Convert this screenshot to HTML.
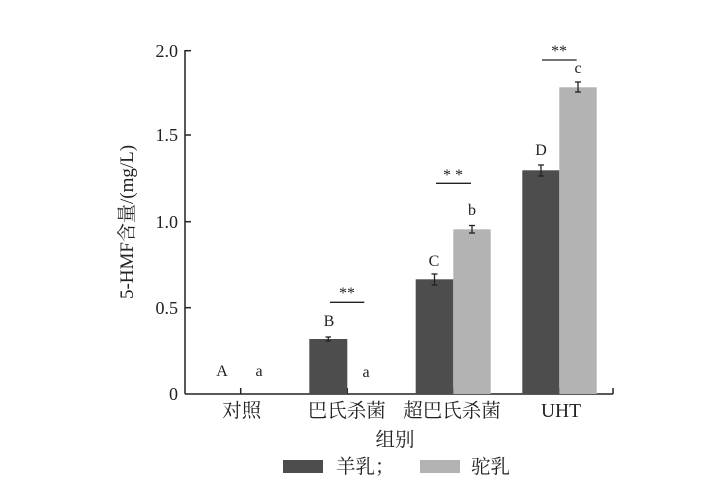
<!DOCTYPE html>
<html><head><meta charset="utf-8"><style>
html,body{margin:0;padding:0;background:#fff;}
svg text{font-family:"Liberation Serif","Noto Serif CJK SC",serif;fill:#222;}
</style></head><body>
<svg width="709" height="497" viewBox="0 0 709 497" xmlns="http://www.w3.org/2000/svg">
<g stroke="#222" stroke-width="1.5" fill="none">
<line x1="185" y1="50" x2="185" y2="394"/>
<line x1="185" y1="394" x2="613" y2="394"/>
<line x1="185" y1="50.7" x2="191" y2="50.7"/>
<line x1="185" y1="135" x2="191" y2="135"/>
<line x1="185" y1="221.7" x2="191" y2="221.7"/>
<line x1="185" y1="307.7" x2="191" y2="307.7"/>
<line x1="240.7" y1="394" x2="240.7" y2="388"/>
<line x1="347.3" y1="394" x2="347.3" y2="388"/>
<line x1="453.3" y1="394" x2="453.3" y2="388"/>
<line x1="559.3" y1="394" x2="559.3" y2="388"/>
<line x1="613" y1="394" x2="613" y2="388"/>
</g>
<g font-size="18" text-anchor="end">
<text x="178" y="57">2.0</text>
<text x="178" y="141">1.5</text>
<text x="178" y="228">1.0</text>
<text x="178" y="314">0.5</text>
<text x="178" y="400">0</text>
</g>
<text transform="translate(133,222) rotate(-90)" font-size="19" text-anchor="middle">5-HMF含量/(mg/L)</text>
<rect x="309.3" y="339" width="38" height="55" fill="#4d4d4d"/>
<rect x="415.7" y="279.3" width="37.6" height="114.7" fill="#4d4d4d"/>
<rect x="453.3" y="229.3" width="37.4" height="164.7" fill="#b3b3b3"/>
<rect x="522.3" y="170.3" width="37" height="223.7" fill="#4d4d4d"/>
<rect x="559.3" y="87.3" width="37.4" height="306.7" fill="#b3b3b3"/>
<g stroke="#222" stroke-width="1.3">
<line x1="328.3" y1="337" x2="328.3" y2="341"/><line x1="325.5" y1="337" x2="331" y2="337"/><line x1="325.5" y1="341" x2="331" y2="341"/>
<line x1="434.5" y1="274" x2="434.5" y2="285"/><line x1="431.5" y1="274" x2="437.5" y2="274"/><line x1="431.5" y1="285" x2="437.5" y2="285"/>
<line x1="472" y1="225.5" x2="472" y2="233"/><line x1="469" y1="225.5" x2="475" y2="225.5"/><line x1="469" y1="233" x2="475" y2="233"/>
<line x1="541" y1="165" x2="541" y2="176"/><line x1="538" y1="165" x2="544" y2="165"/><line x1="538" y1="176" x2="544" y2="176"/>
<line x1="578" y1="82" x2="578" y2="92"/><line x1="575" y1="82" x2="581" y2="82"/><line x1="575" y1="92" x2="581" y2="92"/>
<line x1="330" y1="302.3" x2="364.3" y2="302.3"/>
<line x1="436" y1="183.3" x2="471" y2="183.3"/>
<line x1="542" y1="60" x2="576.7" y2="60"/>
</g>
<g font-size="16" text-anchor="middle">
<text x="347" y="298">**</text>
<text x="453" y="180">* *</text>
<text x="559" y="56">**</text>
<text x="222" y="376">A</text>
<text x="259" y="376">a</text>
<text x="329" y="326">B</text>
<text x="366" y="377">a</text>
<text x="434" y="266">C</text>
<text x="472" y="215">b</text>
<text x="541" y="155">D</text>
<text x="578" y="73">c</text>
</g>
<g font-size="19.5" text-anchor="middle">
<text x="241.7" y="417">对照</text>
<text x="346.7" y="417">巴氏杀菌</text>
<text x="452" y="417">超巴氏杀菌</text>
<text x="561" y="417">UHT</text>
<text x="395" y="446">组别</text>
</g>
<rect x="283" y="460" width="40" height="13" fill="#4d4d4d"/>
<text x="336" y="473" font-size="19.5">羊乳；</text>
<rect x="420" y="460" width="40" height="13" fill="#b3b3b3"/>
<text x="471" y="473" font-size="19.5">驼乳</text>
</svg>
</body></html>
